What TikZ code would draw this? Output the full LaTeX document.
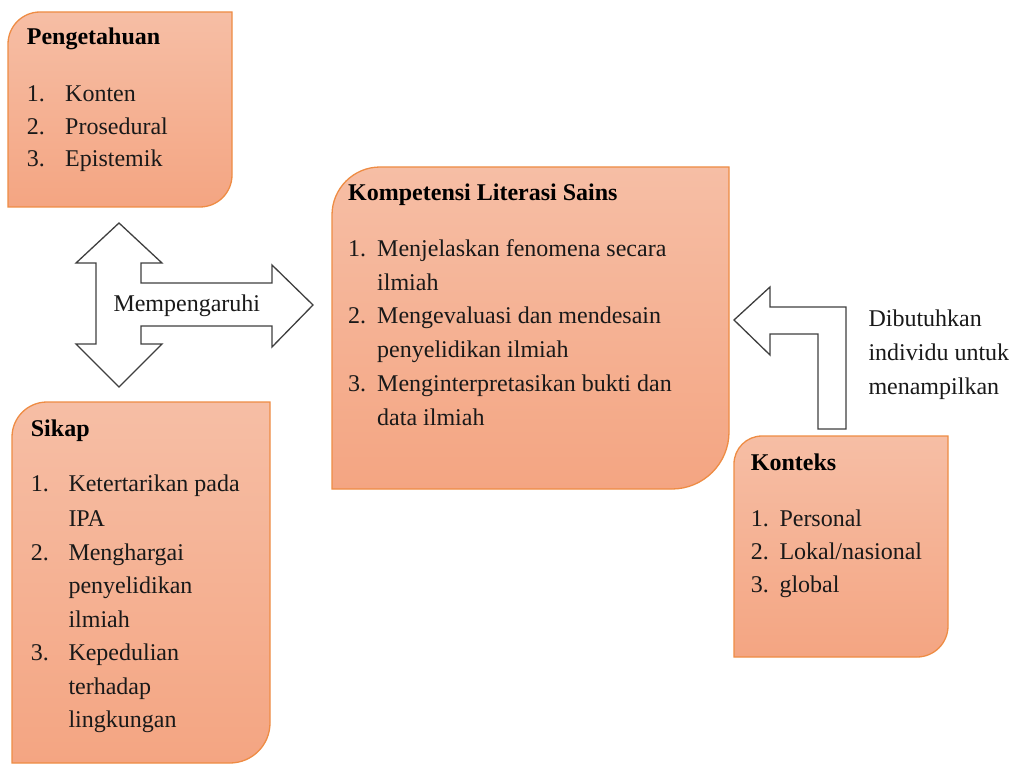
\documentclass[tikz,border=0pt]{standalone}
\usepackage{fontspec}
\setmainfont{Liberation Serif}
\definecolor{boxtop}{HTML}{F6BEA5}
\definecolor{boxbot}{HTML}{F4A582}
\definecolor{boxline}{HTML}{EE8C44}
\definecolor{arrline}{HTML}{3F3F3F}
\tikzset{
  panel/.style={draw=boxline, line width=1.3pt, top color=boxtop, bottom color=boxbot},
  blockarrow/.style={draw=arrline, line width=1.3pt, fill=white, line join=miter},
  txt/.style={anchor=base west, inner sep=0pt, text=black!90, font=\fontsize{24}{34}\selectfont},
  head/.style={anchor=base west, inner sep=0pt, text=black, font=\fontsize{24}{34}\selectfont\bfseries},
}
\newcommand\panelbox[6]{%
 \path[panel] (#1,#4) -- (#1,{#2+#5}) .. controls (#1,{#2+0.448*#5}) and ({#1+0.448*#5},#2) .. ({#1+#5},#2) -- (#3,#2) -- (#3,{#4-#6}) .. controls (#3,{#4-0.448*#6}) and ({#3-0.448*#6},#4) .. ({#3-#6},#4) -- cycle;}
\begin{document}
\begin{tikzpicture}[x=1pt,y=-1pt]
\useasboundingbox (0,0) rectangle (1013,765);
% panels
\panelbox{8}{12}{232}{207}{32}{32}
\panelbox{332}{167}{729}{489}{48}{57}
\panelbox{12}{402}{270}{763}{35}{40}
\panelbox{734}{436}{948}{657}{28}{31}
% three-way arrow
\path[blockarrow] (119,223) -- (162,263) -- (141,263) -- (141,283) -- (272,283) -- (272,265) -- (313,305) -- (272,347) -- (272,326) -- (141,326) -- (141,344) -- (162,344) -- (119,387) -- (76,344) -- (96,344) -- (96,263) -- (76,263) -- cycle;
% bent arrow
\path[blockarrow] (734,320) -- (770,287) -- (770,307) -- (846,307) -- (846,429) -- (818,429) -- (818,334) -- (770,334) -- (770,355) -- cycle;
% Pengetahuan
\node[head] (ph) at (26.7,45) {Pengetahuan};
\node[txt] (pn1) at (26.7,102) {1.};
\node[txt] (pt1) at (65,102) {Konten};
\node[txt] (pn2) at (26.7,134.5) {2.};
\node[txt] (pt2) at (65,134.5) {Prosedural};
\node[txt] (pn3) at (26.7,167) {3.};
\node[txt] (pt3) at (65,167) {Epistemik};
% Kompetensi
\node[head] (kh) at (348,200.7) {Kompetensi Literasi Sains};
\node[txt] (kn1) at (348,256.7) {1.};
\node[txt] (kt1a) at (377,256.7) {Menjelaskan fenomena secara};
\node[txt] (kt1b) at (377,290) {ilmiah};
\node[txt] (kn2) at (348,323.5) {2.};
\node[txt] (kt2a) at (377,323.5) {Mengevaluasi dan mendesain};
\node[txt] (kt2b) at (377,357) {penyelidikan ilmiah};
\node[txt] (kn3) at (348,391) {3.};
\node[txt] (kt3a) at (377,391) {Menginterpretasikan bukti dan};
\node[txt] (kt3b) at (377,425) {data ilmiah};
% Sikap
\node[head] (sh) at (30.7,436.7) {Sikap};
\node[txt] (sn1) at (30.7,491.7) {1.};
\node[txt] (st1a) at (68.3,491.7) {Ketertarikan pada};
\node[txt] (st1b) at (68.3,526) {IPA};
\node[txt] (sn2) at (30.7,560) {2.};
\node[txt] (st2a) at (68.3,560) {Menghargai};
\node[txt] (st2b) at (68.3,593.5) {penyelidikan};
\node[txt] (st2c) at (68.3,627) {ilmiah};
\node[txt] (sn3) at (30.7,660.5) {3.};
\node[txt] (st3a) at (68.3,660.5) {Kepedulian};
\node[txt] (st3b) at (68.3,694) {terhadap};
\node[txt] (st3c) at (68.3,727) {lingkungan};
% Konteks
\node[head] (ch) at (750.7,470) {Konteks};
\node[txt] (cn1) at (750.7,526) {1.};
\node[txt] (ct1) at (779.3,526) {Personal};
\node[txt] (cn2) at (750.7,559.3) {2.};
\node[txt] (ct2) at (779.3,559.3) {Lokal/nasional};
\node[txt] (cn3) at (750.7,592) {3.};
\node[txt] (ct3) at (779.3,592) {global};
% labels
\node[txt] (mp) at (113.3,311.7) {Mempengaruhi};
\node[txt] (d1) at (868.3,326.7) {Dibutuhkan};
\node[txt] (d2) at (868.3,360) {individu untuk};
\node[txt] (d3) at (868.3,394) {menampilkan};
\end{tikzpicture}
\end{document}
